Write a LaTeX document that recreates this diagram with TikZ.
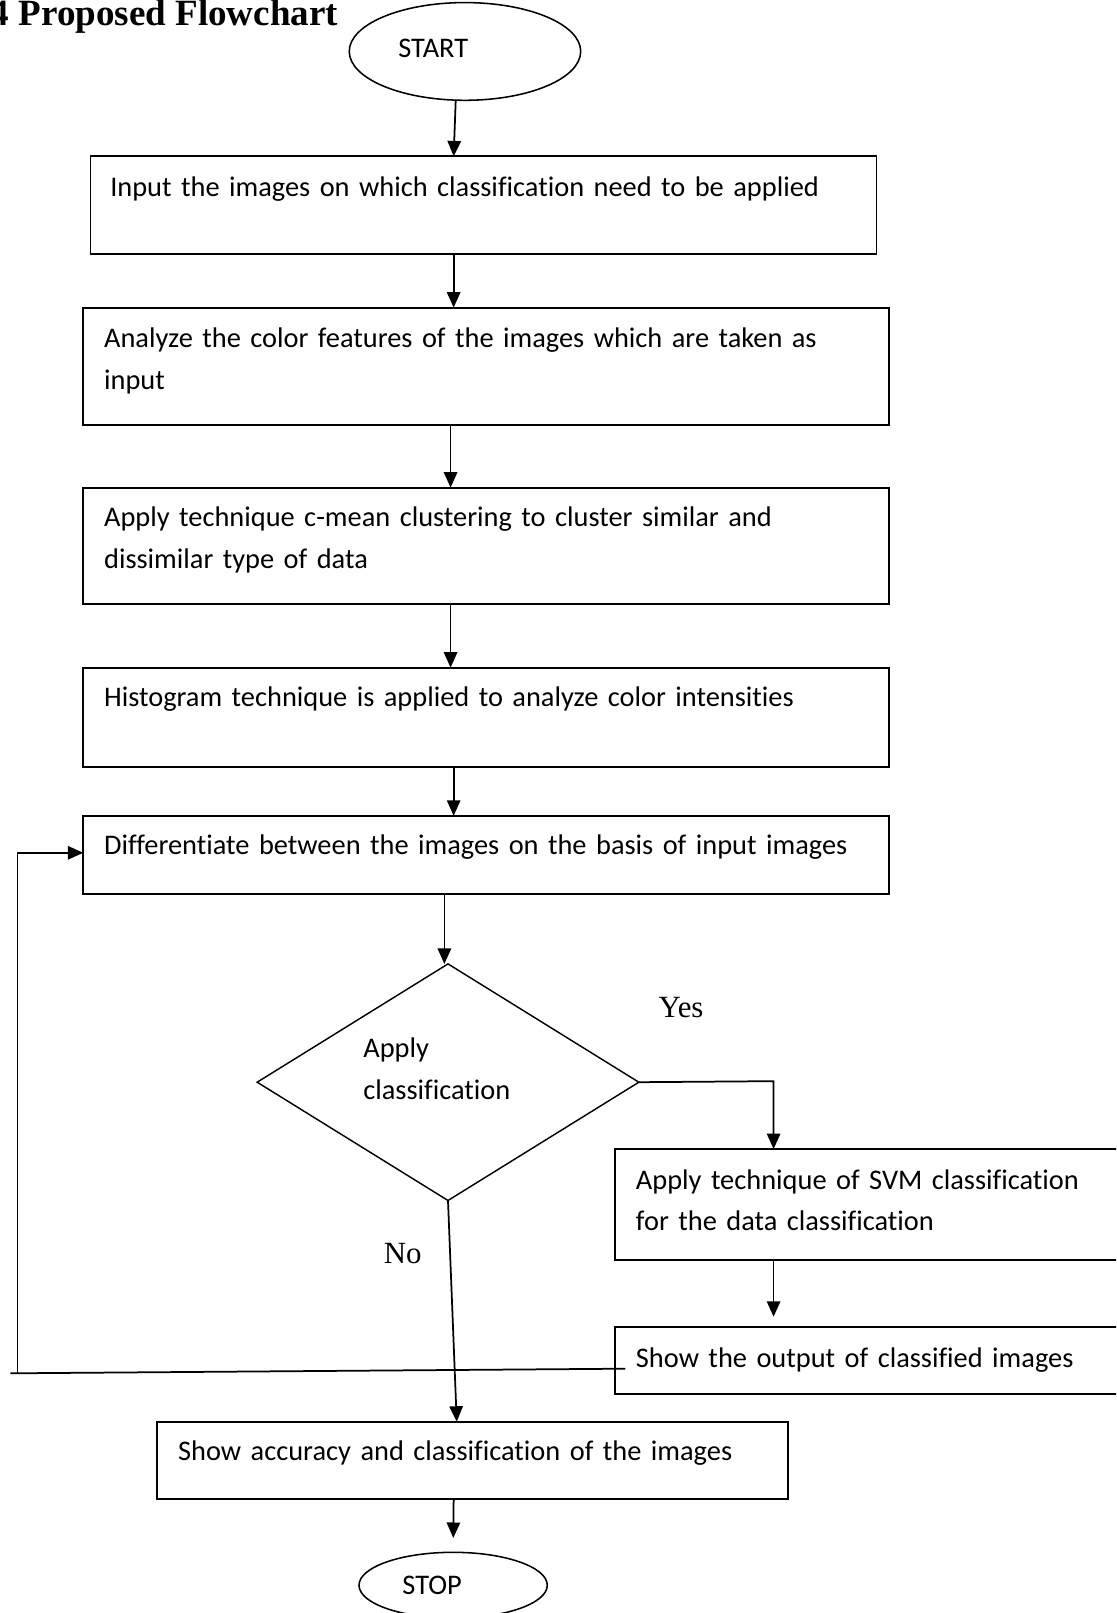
\documentclass[tikz,border=0pt]{standalone}
\usepackage{fontspec}
\setmainfont{Liberation Serif}
\newfontfamily\calibri[Ligatures=NoCommon]{Carlito}
\usetikzlibrary{shapes.geometric, arrows.meta, positioning, calc}

\tikzset{
  flowbox/.style={draw, rectangle, line width=1.8pt, inner sep=0pt, outer sep=0pt},
  termbox/.style={draw, ellipse, line width=1.5pt, inner sep=0pt, outer sep=0pt},
  decbox/.style={draw, diamond, line width=1.4pt, inner sep=0pt, outer sep=0pt},
  flowtext/.style={anchor=base west, inner sep=0pt, align=left, text width=760pt,
    font=\calibri\fontsize{27.6}{40.5}\selectfont},
  yesno/.style={anchor=base west, inner sep=0pt, font=\fontsize{30}{36}\selectfont},
  arr/.style={line width=1.7pt, -{Triangle[length=15pt,width=13pt]}},
  plain/.style={line width=1.7pt}
}

\begin{document}
\begin{tikzpicture}[x=1pt,y=-1pt]
  \path[use as bounding box] (0,0) rectangle (1085,1568);
  \clip (0,0) rectangle (1085,1568);
  \node[anchor=base west, inner sep=0pt, font=\bfseries\fontsize{36}{40}\selectfont] (title) at (-9,25) {4 Proposed Flowchart};

  % terminals and steps
  \node[termbox, minimum width=225pt, minimum height=95pt] (start) at (452,50) {};
  \node[flowtext] (tstart) at (387,56) {START};

  \node[flowbox, minimum width=764pt, minimum height=95pt] (b1) at (470,199.5) {};
  \node[flowtext] (t1) at ($(b1.north west)+(19,39)$) {Input the images on which classification need to be applied};

  \node[flowbox, minimum width=783pt, minimum height=114pt] (b2) at (472.5,356) {};
  \node[flowtext] (t2) at ($(b2.north west)+(20,39)$) {Analyze the color features of the images which are taken as\\input};

  \node[flowbox, minimum width=783pt, minimum height=113pt] (b3) at (472.5,530.5) {};
  \node[flowtext] (t3) at ($(b3.north west)+(20,38)$) {Apply technique c-mean clustering to cluster similar and\\dissimilar type of data};

  \node[flowbox, minimum width=783pt, minimum height=97pt] (b4) at (472.5,697.5) {};
  \node[flowtext] (t4) at ($(b4.north west)+(20,38)$) {Histogram technique is applied to analyze color intensities};

  \node[flowbox, minimum width=783pt, minimum height=76pt] (b5) at (472.5,831) {};
  \node[flowtext] (t5) at ($(b5.north west)+(20,38)$) {Differentiate between the images on the basis of input images};

  \node[decbox, minimum width=371pt, minimum height=230pt] (dec) at (435.5,1052) {};
  \node[flowtext, text width=200pt] (tdec) at (353,1028) {Apply\\classification};

  \node[flowbox, minimum width=502pt, minimum height=108pt] (b6) at (849,1171) {};
  \node[flowtext] (t6) at ($(b6.north west)+(20,39)$) {Apply technique of SVM classification\\for the data classification};

  \node[flowbox, minimum width=502pt, minimum height=65pt] (b7) at (849,1322.5) {};
  \node[flowtext] (t7) at ($(b7.north west)+(20,39)$) {Show the output of classified images};

  \node[flowbox, minimum width=613pt, minimum height=75pt] (b8) at (459.5,1419.5) {};
  \node[flowtext] (t8) at ($(b8.north west)+(20,38)$) {Show accuracy and classification of the images};

  \node[termbox, minimum width=183pt, minimum height=64pt] (stop) at (440.5,1541) {};
  \node[flowtext] (tstop) at (391,1550) {STOP};

  \node[yesno] (yes) at (640,989) {Yes};
  \node[yesno] (no) at (373,1228) {No};

  % connectors
  \draw[arr] ([xshift=-9pt]start.south) -- ([xshift=-29pt]b1.north);
  \draw[arr] ([xshift=-29pt]b1.south) -- ([xshift=-31.5pt]b2.north);
  \draw[arr] ([xshift=-34.5pt]b2.south) -- ([xshift=-34.5pt]b3.north);
  \draw[arr] ([xshift=-34.5pt]b3.south) -- ([xshift=-34.5pt]b4.north);
  \draw[arr] ([xshift=-31.5pt]b4.south) -- ([xshift=-31.5pt]b5.north);
  \draw[arr] ([xshift=-40.5pt]b5.south) -- ([xshift=-3.5pt]dec.north);

  \coordinate (yesbend) at (752,1051);
  \draw[arr] (dec.east) -- (yesbend) -- (yesbend |- b6.north);
  \draw[arr, shorten >=10pt] (yesbend |- b6.south) -- (yesbend |- b7.north);

  \draw[arr] (dec.south) -- ([xshift=-15.5pt]b8.north);
  \draw[arr, shorten >=14pt] ([xshift=-18.5pt]b8.south) -- (stop.north);

  % loop back
  \coordinate (loopin) at ([xshift=10pt,yshift=-8pt]b7.west);
  \coordinate (loopout) at (10,1335);
  \coordinate (loopup) at (17,1335);
  \draw[plain] (loopin) -- (loopout);
  \draw[arr] (loopup) |- ([yshift=2pt]b5.west);
\end{tikzpicture}
\end{document}
